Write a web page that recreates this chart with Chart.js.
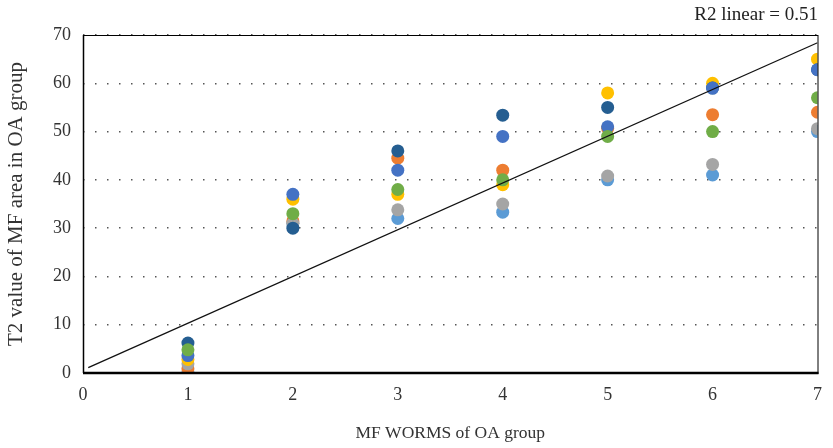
<!DOCTYPE html>
<html>
<head>
<meta charset="utf-8">
<script src="https://cdn.jsdelivr.net/npm/chart.js@4/dist/chart.umd.min.js"></script>
<style>
  html, body { margin: 0; padding: 0; background: #fff; }
  #wrap { width: 833px; height: 448px; }
</style>
</head>
<body>
<div id="wrap"><canvas id="myChart" width="833" height="448"></canvas></div>
<script>
"use strict"
// MF WORMS score (x) vs T2 value per subject series
const worms = [1, 2, 3, 4, 5, 6, 7]
const lightBlue = [0, 31, 32, 33.3, 40, 41, 50]
const orange = [0.9, 31.5, 44.5, 42, 50.7, 53.5, 54]
const gray = [1.9, 31, 33.8, 35, 40.8, 43.2, 50.6]
const yellow = [2.8, 36, 37, 39, 58, 60, 65]
const blue = [3.6, 37, 42, 49, 51, 59, 62.8]
const green = [4.8, 33, 38, 40, 49, 50, 57]
const darkBlue = [6.2, 30, 46, 53.4, 55, 59, 62.8]
// linear fit line endpoints
const fitX = [0.05, 7]
const fitY = [1.1, 68.4]
const r2Text = "R2 linear = 0.51"

const serif = "'Liberation Serif', 'DejaVu Serif', serif"

function pts(ys) {
    return ys.map((y, i) => ({ x: worms[i], y: y }))
}

function series(ys, color) {
    return {
        data: pts(ys),
        backgroundColor: color,
        borderColor: color,
        pointRadius: 6.5,
        pointHoverRadius: 6.5,
        borderWidth: 0
    }
}

// box around plot area + R2 text
const frame = {
    id: 'frame',
    afterDatasetsDraw(chart) {
        const { ctx, chartArea: a } = chart
        ctx.save()
        ctx.strokeStyle = '#000'
        ctx.lineWidth = 1
        ctx.strokeRect(a.left + 0.5, a.top + 0.5, a.right - a.left, a.bottom - a.top)
        ctx.lineWidth = 2.5
        ctx.beginPath()
        ctx.moveTo(a.left, a.bottom)
        ctx.lineTo(a.right + 1, a.bottom)
        ctx.stroke()
        ctx.lineWidth = 1.5
        ctx.beginPath()
        ctx.moveTo(a.left + 0.5, a.top)
        ctx.lineTo(a.left + 0.5, a.bottom)
        ctx.stroke()
        ctx.fillStyle = '#222'
        ctx.font = "19px " + serif
        ctx.textAlign = 'right'
        ctx.textBaseline = 'middle'
        ctx.fillText(r2Text, 818, 15)
        ctx.restore()
    }
}

// first dataset in the list is drawn on top
const config = {
    type: 'scatter',
    data: {
        datasets: [
            {
                data: fitX.map((x, i) => ({ x: x, y: fitY[i] })),
                showLine: true,
                borderColor: '#111',
                borderWidth: 1.3,
                pointRadius: 0,
                pointHoverRadius: 0
            },
            series(green, '#70AD47'),
            series(blue, '#4472C4'),
            series(darkBlue, '#255E91'),
            series(yellow, '#FFC000'),
            series(gray, '#A5A5A5'),
            series(orange, '#ED7D31'),
            series(lightBlue, '#5B9BD5')
        ]
    },
    options: {
        responsive: false,
        animation: false,
        layout: { padding: { left: 0, right: 9, top: 35, bottom: 0 } },
        plugins: {
            legend: { display: false },
            tooltip: { enabled: false }
        },
        scales: {
            x: {
                type: 'linear',
                min: 0,
                max: 7,
                ticks: { stepSize: 1, color: '#333', padding: 11, font: { family: serif, size: 18 } },
                grid: { display: false, drawTicks: false },
                border: { display: false },
                title: {
                    display: true,
                    text: 'MF WORMS of OA group',
                    color: '#333',
                    font: { family: serif, size: 17.5 },
                    padding: { top: 7 }
                },
                afterFit(scale) { scale.height = 75 }
            },
            y: {
                min: 0,
                max: 70,
                ticks: { stepSize: 10, color: '#333', padding: 12, font: { family: serif, size: 18 } },
                grid: { color: '#555', lineWidth: 1.5, drawTicks: false },
                border: { display: false, dash: [1.5, 10.5] },
                title: {
                    display: true,
                    text: 'T2 value of MF area in OA group',
                    color: '#333',
                    font: { family: serif, size: 21 },
                    padding: { bottom: 2 }
                },
                afterFit(scale) { scale.width = 83 }
            }
        }
    },
    plugins: [frame]
}

new Chart(document.getElementById('myChart'), config)
</script>
</body>
</html>
